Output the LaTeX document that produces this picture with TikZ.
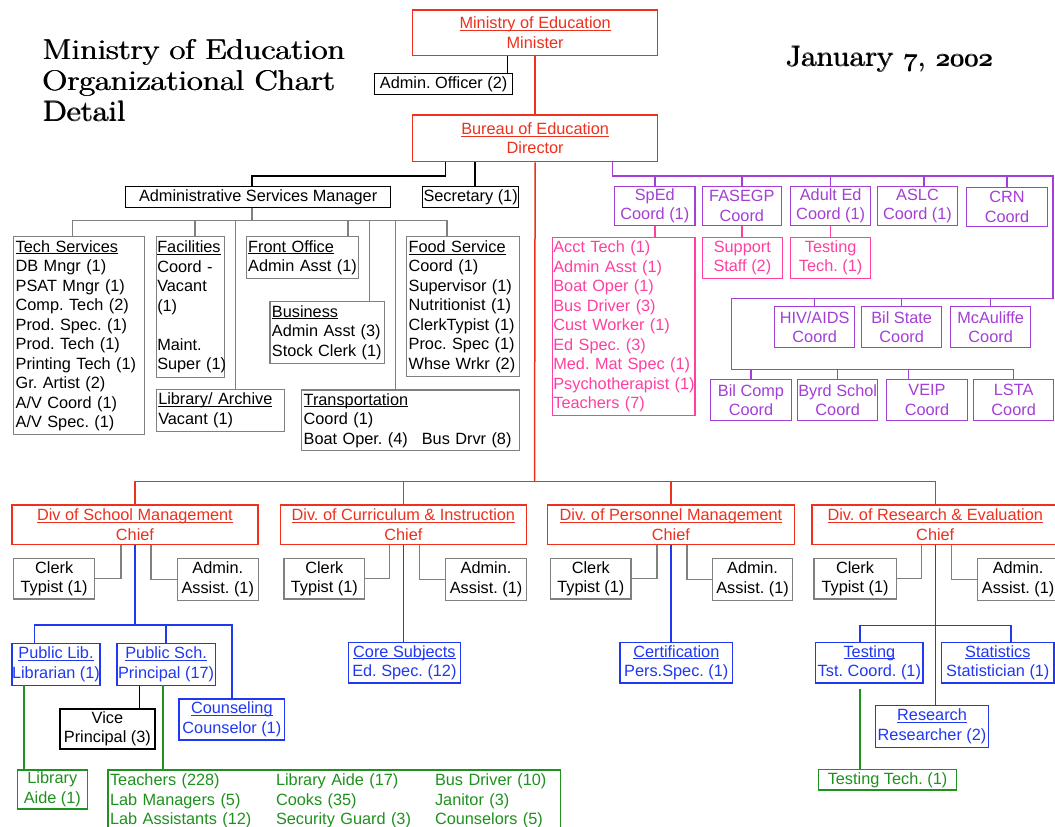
\documentclass[tikz,border=0pt]{standalone}
\usepackage{fontspec}
\usepackage{graphicx}
\newfontfamily\bfnt{Liberation Sans}
\definecolor{cRed}{RGB}{238,48,28}
\definecolor{cPur}{RGB}{163,62,214}
\definecolor{cPink}{RGB}{255,64,160}
\definecolor{cBlue}{RGB}{32,56,240}
\definecolor{cGrn}{RGB}{30,145,30}
\definecolor{cGray}{RGB}{128,128,128}
\newcommand\uln[1]{\sbox0{#1}\rlap{\rule[-2.2pt]{\wd0}{0.9pt}}\usebox0}
\newcommand\osn[1]{{\usefont{OML}{lmm}{m}{it}#1}}
\newcommand\pmbx[1]{\rlap{\kern0.4pt\raisebox{0.2pt}{#1}}\rlap{\kern0.8pt #1}#1}
\newcommand\ttl[2]{\scalebox{#1}[1]{\fontsize{28.5}{31}\selectfont\pmbx{#2}}}
\newcommand\BX[7]{\node[#1,anchor=north west,minimum width={#5pt-#3pt},minimum height={#6pt-#4pt}] (#2) at (#3,#4) {#7};}
\begin{document}
\begin{tikzpicture}[x=1pt,y=-1pt,
  bx/.style={draw,line width=1.3pt,inner sep=0pt,align=center,font=\bfnt\fontsize{16.3}{19.5}\selectfont\frenchspacing},
  redb/.style={bx,draw=cRed,text=cRed},
  purb/.style={bx,draw=cPur,text=cPur},
  pinkb/.style={bx,draw=cPink,text=cPink},
  blueb/.style={bx,draw=cBlue,text=cBlue},
  grnb/.style={bx,draw=cGrn,text=cGrn},
  grayb/.style={bx,draw=cGray,text=black},
  blkb/.style={bx,draw=black,text=black},
  lst/.style={align=left,inner xsep=2pt},
  cn/.style={line width=1.5pt},
  rc/.style={cn,draw=cRed},
  bc/.style={cn,draw=black},
  gc/.style={cn,draw=cGray},
  blc/.style={cn,draw=cBlue},
  gnc/.style={cn,draw=cGrn},
  pc/.style={cn,draw=cPur},
  pkc/.style={cn,draw=cPink},
  ttlnode/.style={anchor=base west,inner sep=0pt,text=black}]
\clip (0,0) rectangle (1055,827);
\fill[white] (0,0) rectangle (1055,827);

% titles
\node[ttlnode] (t1) at (42,59.3) {\ttl{1.2}{Ministry of Education}};
\node[ttlnode] (t2) at (42,90.5) {\ttl{1.2}{Organizational Chart}};
\node[ttlnode] (t3) at (42,121) {\ttl{1.2}{Detail}};
\node[ttlnode] (dt) at (785,66) {\ttl{1.17}{January \osn{7}, \osn{2002}}};

% black boxes
\BX{blkb}{ao}{374}{73}{512}{94}{Admin. Officer (2)}
\BX{blkb}{asm}{125}{185.7}{390}{206.7}{Administrative Services Manager}
\BX{blkb}{sec}{422}{185.7}{518}{206.7}{Secretary (1)}
\BX{blkb}{vp}{59.2}{708.3}{154.3}{748.3}{Vice\\Principal (3)}

% red boxes
\BX{redb}{min}{412}{9.3}{657}{55}{\uln{Ministry of Education}\\Minister}
\BX{redb}{bur}{412}{114.3}{657}{161}{\uln{Bureau of Education}\\Director}
\BX{redb}{dsm}{11.4}{504.3}{257.2}{544}{\uln{Div of School Management}\\Chief}
\BX{redb}{dci}{279.6}{504.3}{525.8}{544}{\uln{Div. of Curriculum \& Instruction}\\Chief}
\BX{redb}{dpm}{546.7}{504.3}{793.8}{544}{\uln{Div. of Personnel Management}\\Chief}
\BX{redb}{dre}{811.2}{504.3}{1058}{544}{\uln{Div. of Research \& Evaluation}\\Chief}

% gray boxes (administrative services)
\BX{grayb,lst,text width=126.6pt}{tech}{13}{236}{143.6}{434}{\uln{Tech Services}\\DB Mngr (1)\\PSAT Mngr (1)\\Comp. Tech (2)\\Prod. Spec. (1)\\Prod. Tech (1)\\Printing Tech (1)\\Gr. Artist (2)\\A/V Coord (1)\\A/V Spec. (1)}
\BX{grayb,lst,inner xsep=1pt,text width=66.2pt}{fac}{155.6}{236}{223.8}{376.7}{\uln{Facilities}\\Coord -\\Vacant\\(1)\\[19.5pt]Maint.\\\mbox{Super (1)}}
\BX{grayb,lst,text width=124.4pt}{lib}{155.6}{389}{284}{430.7}{\uln{Library/ Archive}\\Vacant (1)}
\BX{grayb,lst,text width=108.5pt}{front}{245.5}{236}{358}{278}{\uln{Front Office}\\\mbox{Admin Asst (1)}}
\BX{grayb,lst,text width=110.7pt}{bus}{269.3}{300.7}{384}{362.7}{\uln{Business}\\\mbox{Admin Asst (3)}\\\mbox{Stock Clerk (1)}}
\BX{grayb,lst,text width=109pt}{food}{406}{236}{519}{375.7}{\uln{Food Service}\\Coord (1)\\Supervisor (1)\\Nutritionist (1)\\\mbox{ClerkTypist (1)}\\Proc. Spec (1)\\Whse Wrkr (2)}
\BX{grayb,lst,text width=213.7pt}{trans}{301}{389.3}{518.7}{450}{\uln{Transportation}\\Coord (1)\\Boat Oper. (4)\hspace{14pt}Bus Drvr (8)}

% clerk / admin boxes
\BX{grayb}{ct1}{13}{557.7}{94}{598.3}{Clerk\\Typist (1)}
\BX{grayb}{aa1}{176.6}{557.7}{257.6}{599.5}{Admin.\\Assist. (1)}
\BX{grayb}{ct2}{283.4}{557.7}{364}{598.3}{Clerk\\Typist (1)}
\BX{grayb}{aa2}{445}{557.7}{525.8}{599.5}{Admin.\\Assist. (1)}
\BX{grayb}{ct3}{550}{557.7}{630.4}{598.3}{Clerk\\Typist (1)}
\BX{grayb}{aa3}{711.8}{557.7}{792}{599.5}{Admin.\\Assist. (1)}
\BX{grayb}{ct4}{813.2}{557.7}{895.6}{598.3}{Clerk\\Typist (1)}
\BX{grayb}{aa4}{977}{557.7}{1058}{599.5}{Admin.\\Assist. (1)}

% purple boxes
\BX{purb}{sped}{614}{185.7}{694.3}{225}{SpEd\\Coord (1)}
\BX{purb}{fas}{701.7}{185.7}{780.7}{225}{FASEGP\\Coord}
\BX{purb}{adult}{790}{185.7}{870}{225}{Adult Ed\\Coord (1)}
\BX{purb}{aslc}{877}{185.7}{956.7}{225}{ASLC\\Coord (1)}
\BX{purb}{crn}{966}{186.5}{1046.7}{226}{CRN\\Coord}
\BX{purb}{hiv}{774}{306}{854}{347}{HIV/AIDS\\Coord}
\BX{purb}{bils}{861}{306}{941}{347}{Bil State\\Coord}
\BX{purb}{mca}{950}{306}{1030}{347}{McAuliffe\\Coord}
\BX{purb}{bilc}{710}{378.7}{790.7}{420}{Bil Comp\\Coord}
\BX{purb}{byrd}{797}{378.7}{877}{420}{Byrd Schol\\Coord}
\BX{purb}{veip}{886}{378.7}{966.7}{420}{VEIP\\Coord}
\BX{purb}{lsta}{973}{378.7}{1053}{420}{LSTA\\Coord}

% pink boxes
\BX{pinkb,lst,inner xsep=1pt,text width=140.6pt}{spedc}{551.7}{236.7}{694.3}{415}{Acct Tech (1)\\Admin Asst (1)\\Boat Oper (1)\\Bus Driver (3)\\Cust Worker (1)\\Ed Spec. (3)\\Med. Mat Spec (1)\\\mbox{Psychotherapist (1)}\\Teachers (7)}
\BX{pinkb}{sup}{701.7}{236.7}{781.7}{277.7}{Support\\Staff (2)}
\BX{pinkb}{ttc}{790}{236.7}{870}{277.7}{Testing\\Tech. (1)}

% blue boxes
\BX{blueb}{plib}{11.4}{642.7}{99.2}{685}{\uln{Public Lib.}\\Librarian (1)}
\BX{blueb}{psch}{116.4}{642.7}{214.5}{685}{\uln{Public Sch.}\\Principal (17)}
\BX{blueb}{couns}{178.4}{698.3}{284}{739.3}{\uln{Counseling}\\Counselor (1)}
\BX{blueb}{core}{347.8}{641.7}{459.7}{682.3}{\uln{Core Subjects}\\Ed. Spec. (12)}
\BX{blueb}{cert}{619.4}{641.7}{731.9}{682.3}{\uln{Certification}\\Pers.Spec. (1)}
\BX{blueb}{test}{815}{641.7}{922.4}{682.3}{\uln{Testing}\\Tst. Coord. (1)}
\BX{blueb}{stat}{941}{641.7}{1053.3}{682.3}{\uln{Statistics}\\Statistician (1)}
\BX{blueb}{res}{874.8}{705}{988}{746.7}{\uln{Research}\\Researcher (2)}

% green boxes
\BX{grnb}{laide}{16.5}{769.3}{86.8}{808.3}{Library\\Aide (1)}
\BX{grnb,lst,text width=448.1pt}{big}{107.4}{769.3}{559.5}{831.3}{\makebox[166pt][l]{Teachers (228)}\makebox[159pt][l]{Library Aide (17)}Bus Driver (10)\\\makebox[166pt][l]{Lab Managers (5)}\makebox[159pt][l]{Cooks (35)}Janitor (3)\\\makebox[166pt][l]{Lab Assistants (12)}\makebox[159pt][l]{Security Guard (3)}Counselors (5)}
\BX{grnb}{ttech}{818}{769}{955.8}{789.3}{Testing Tech. (1)}

% ---- connectors ----
% red
\coordinate (rh) at (534.5,481.7);
\draw[rc] (min.south) -- (bur.north);
\draw[rc] (bur.south) -- (rh);
\draw[rc] (dsm.north) |- (dre.north |- rh) -- (dre.north);
\draw[rc] (dci.north) -- (dci.north |- rh);
\draw[rc] (dpm.north) -- (dpm.north |- rh);

% black
\coordinate (aot) at (507.5,73);
\draw[bc] (min.south -| aot) -- (aot);
\coordinate (asmj) at (445.5,176);
\coordinate (asmt) at (252,185.7);
\draw[bc] (bur.south -| asmj) -- (asmj) -| (asmt);
\coordinate (sect) at (475,185.7);
\draw[bc] (bur.south -| sect) -- (sect);
\coordinate (vpt) at (139.5,708.3);
\draw[bc] (psch.south -| vpt) -- (vpt);

% gray
\coordinate (gj) at (252,220.5);
\draw[gc] (asm.south -| gj) -- (gj);
\coordinate (tk1) at (72.5,236);
\coordinate (tk2) at (195,236);
\coordinate (tk3) at (235.7,389);
\coordinate (tk4) at (348,236);
\coordinate (tk5) at (369.3,300.7);
\coordinate (tk6) at (395.6,389.3);
\coordinate (tk7) at (447,236);
\draw[gc] (tk1) |- (tk7 |- gj) -- (tk7);
\foreach \k in {2,...,6} \draw[gc] (tk\k) -- (tk\k |- gj);
\foreach \dv/\cv/\av in {dsm/ct1/aa1, dci/ct2/aa2, dpm/ct3/aa3, dre/ct4/aa4} {
  \draw[gc] ([xshift=-14pt]\dv.south) |- (\cv.east);
  \draw[gc] ([xshift=16pt]\dv.south) |- (\av.west);
}

% blue
\coordinate (bj) at (134.3,625);
\coordinate (plt) at (34.4,642.7);
\draw[blc] (dsm.south) -- (dsm.south |- bj);
\draw[blc] (plt) |- (couns.north |- bj) -- (couns.north);
\draw[blc] (psch.north) -- (psch.north |- bj);
\draw[blc] (dci.south) -- (dci.south |- core.north);
\draw[blc] (dpm.south) -- (dpm.south |- cert.north);
\draw[blc] (dre.south) -- (dre.south |- res.north);
\coordinate (rj) at (936,625.3);
\coordinate (tstt) at (859.8,641.7);
\coordinate (statt) at (1011,641.7);
\draw[blc] (tstt) |- (statt |- rj) -- (statt);

% green
\coordinate (plb) at (24.1,685);
\draw[gnc] (plb) -- (plb |- laide.north);
\coordinate (psb) at (162.9,685);
\draw[gnc] (psb) -- (psb |- big.north);
\coordinate (tsb) at (859.8,689);
\draw[gnc] (tsb) -- (tsb |- ttech.north);

% purple
\coordinate (pj) at (612.5,176);
\coordinate (pr1) at (1053,176);
\coordinate (pr2) at (1053,298.3);
\coordinate (pl1) at (731.7,298.3);
\coordinate (pl2) at (731.7,369.5);
\draw[pc] (bur.south -| pj) -- (pj) -- (pr1) -- (pr2) -- (pl1) -- (pl2) -- (lsta.north |- pl2) -- (lsta.north);
\foreach \n in {sped,fas,adult,crn} \draw[pc] (\n.north) -- (\n.north |- pj);
\coordinate (aslct) at (924,185.7);
\draw[pc] (aslct) -- (aslct |- pj);
\foreach \n in {hiv,bils,mca} \draw[pc] (\n.north) -- (\n.north |- pl1);
\foreach \n in {bilc,byrd} \draw[pc] (\n.north) -- (\n.north |- pl2);
\coordinate (veipt) at (908.3,378.7);
\draw[pc] (veipt) -- (veipt |- pl2);

% pink
\draw[pkc] (sped.south) -- (sped.south |- spedc.north);
\draw[pkc] (fas.south) -- (fas.south |- sup.north);
\draw[pkc] (adult.south) -- (adult.south |- ttc.north);
\end{tikzpicture}
\end{document}
